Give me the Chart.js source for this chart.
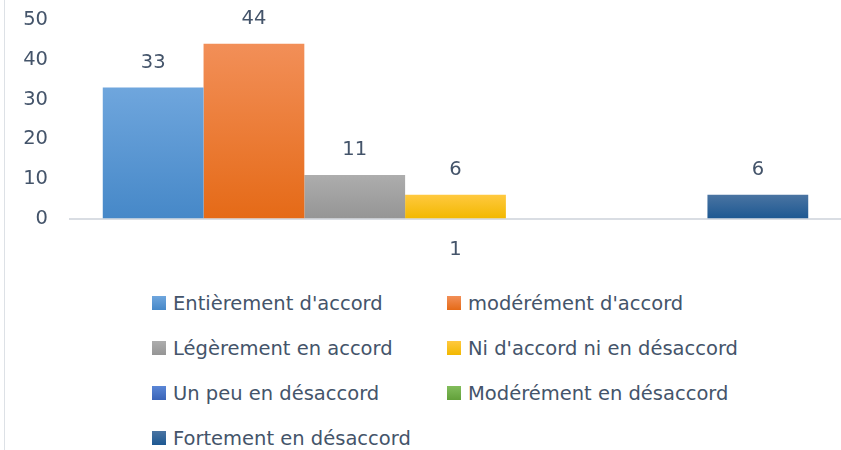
<!DOCTYPE html>
<html>
<head>
<meta charset="utf-8">
<script src="https://cdn.jsdelivr.net/npm/chart.js@4.4.1/dist/chart.umd.min.js"></script>
<style>
    html, body { margin: 0; padding: 0; background: #fff; }
    #wrap { position: relative; width: 841px; height: 450px; overflow: hidden; }
    #edge { position: absolute; left: 4px; top: 0; width: 1px; height: 450px; background: #dde1e6; }
    #chartBox { position: absolute; left: 0; top: 0; width: 841px; height: 282px; }
    #legend {
        position: absolute; left: 152px; top: 291px;
        display: grid; grid-template-columns: 295px 320px; grid-auto-rows: 45px;
        font-family: "DejaVu Sans", sans-serif; font-size: 19.5px; color: #44546a;
    }
    .item { display: flex; align-items: center; height: 24px; white-space: nowrap; }
    .box { width: 14px; height: 14px; margin-right: 7px; }
</style>
</head>
<body>
<div id="wrap">
    <div id="edge"></div>
    <div id="chartBox"><canvas id="barChart"></canvas></div>
    <div id="legend"></div>
</div>
<script>
const categories = ['1'];
const seriesNames = [
    'Entièrement d\'accord',
    'modérément d\'accord',
    'Légèrement en accord',
    'Ni d\'accord ni en désaccord',
    'Un peu en désaccord',
    'Modérément en désaccord',
    'Fortement en désaccord'
];
const seriesValues = [33, 44, 11, 6, 0, 0, 6];
const yTicks = [0, 10, 20, 30, 40, 50];

// couleurs (haut, bas) de chaque série
const topColors = ['#6fa6dd', '#f28f58', '#adadad', '#ffc93f', '#5a86d6', '#82bd5c', '#4a74a2'];
const bottomColors = ['#4688c8', '#e56a17', '#959595', '#f2b800', '#3a64b8', '#62a03a', '#1d5892'];
const textColor = '#44546a';
const fontFamily = '"DejaVu Sans", sans-serif';

function barGradient(i) {
    return function (context) {
        const chart = context.chart;
        if (!chart.chartArea || !chart.scales.y) return bottomColors[i];
        const y = chart.scales.y;
        const top = y.getPixelForValue(seriesValues[i]);
        const bottom = y.getPixelForValue(0);
        if (!isFinite(top) || !isFinite(bottom) || top === bottom) return bottomColors[i];
        const g = chart.ctx.createLinearGradient(0, top, 0, bottom);
        g.addColorStop(0, topColors[i]);
        g.addColorStop(1, bottomColors[i]);
        return g;
    };
}

// étiquettes de valeur au-dessus des barres
const valueLabels = {
    id: 'valueLabels',
    afterDatasetsDraw(chart) {
        const ctx = chart.ctx;
        ctx.save();
        ctx.font = '19.5px ' + fontFamily;
        ctx.fillStyle = textColor;
        ctx.textAlign = 'center';
        ctx.textBaseline = 'middle';
        chart.data.datasets.forEach((ds, i) => {
            const meta = chart.getDatasetMeta(i);
            meta.data.forEach((bar, j) => {
                const v = ds.data[j];
                if (!v) return;
                ctx.fillText(String(v), bar.x, bar.y - 25);
            });
        });
        ctx.restore();
    }
};

const datasets = seriesNames.map((name, i) => ({
    label: name,
    data: [seriesValues[i]],
    backgroundColor: barGradient(i),
    borderWidth: 0,
    barPercentage: 1,
    categoryPercentage: 0.915
}));

const ctx = document.getElementById('barChart').getContext('2d');
const barChart = new Chart(ctx, {
    type: 'bar',
    data: { labels: categories, datasets: datasets },
    plugins: [valueLabels],
    options: {
        responsive: true,
        maintainAspectRatio: false,
        animation: false,
        layout: { padding: { top: 20, left: 0, right: 0, bottom: 0 } },
        plugins: {
            legend: { display: false },
            tooltip: { enabled: false }
        },
        scales: {
            x: {
                grid: { display: false, drawTicks: false },
                border: { display: true, color: '#d9dde3', width: 2 },
                ticks: { color: textColor, font: { family: fontFamily, size: 19.5 }, padding: 20 }
            },
            y: {
                min: 0,
                max: 50,
                afterBuildTicks(scale) {
                    scale.ticks = yTicks.map(v => ({ value: v }));
                },
                afterFit(scale) {
                    scale.width = 70;
                    scale.paddingTop = 0;
                    scale.paddingBottom = 0;
                },
                grid: { display: false, drawTicks: false },
                border: { display: false },
                ticks: { color: textColor, font: { family: fontFamily, size: 19.5 }, padding: 22 }
            }
        }
    }
});

// légende en deux colonnes
const legendEl = document.getElementById('legend');
seriesNames.forEach((name, i) => {
    const item = document.createElement('div');
    item.className = 'item';
    const box = document.createElement('span');
    box.className = 'box';
    box.style.background = 'linear-gradient(' + topColors[i] + ', ' + bottomColors[i] + ')';
    const label = document.createElement('span');
    label.textContent = name;
    item.appendChild(box);
    item.appendChild(label);
    legendEl.appendChild(item);
});
</script>
</body>
</html>
